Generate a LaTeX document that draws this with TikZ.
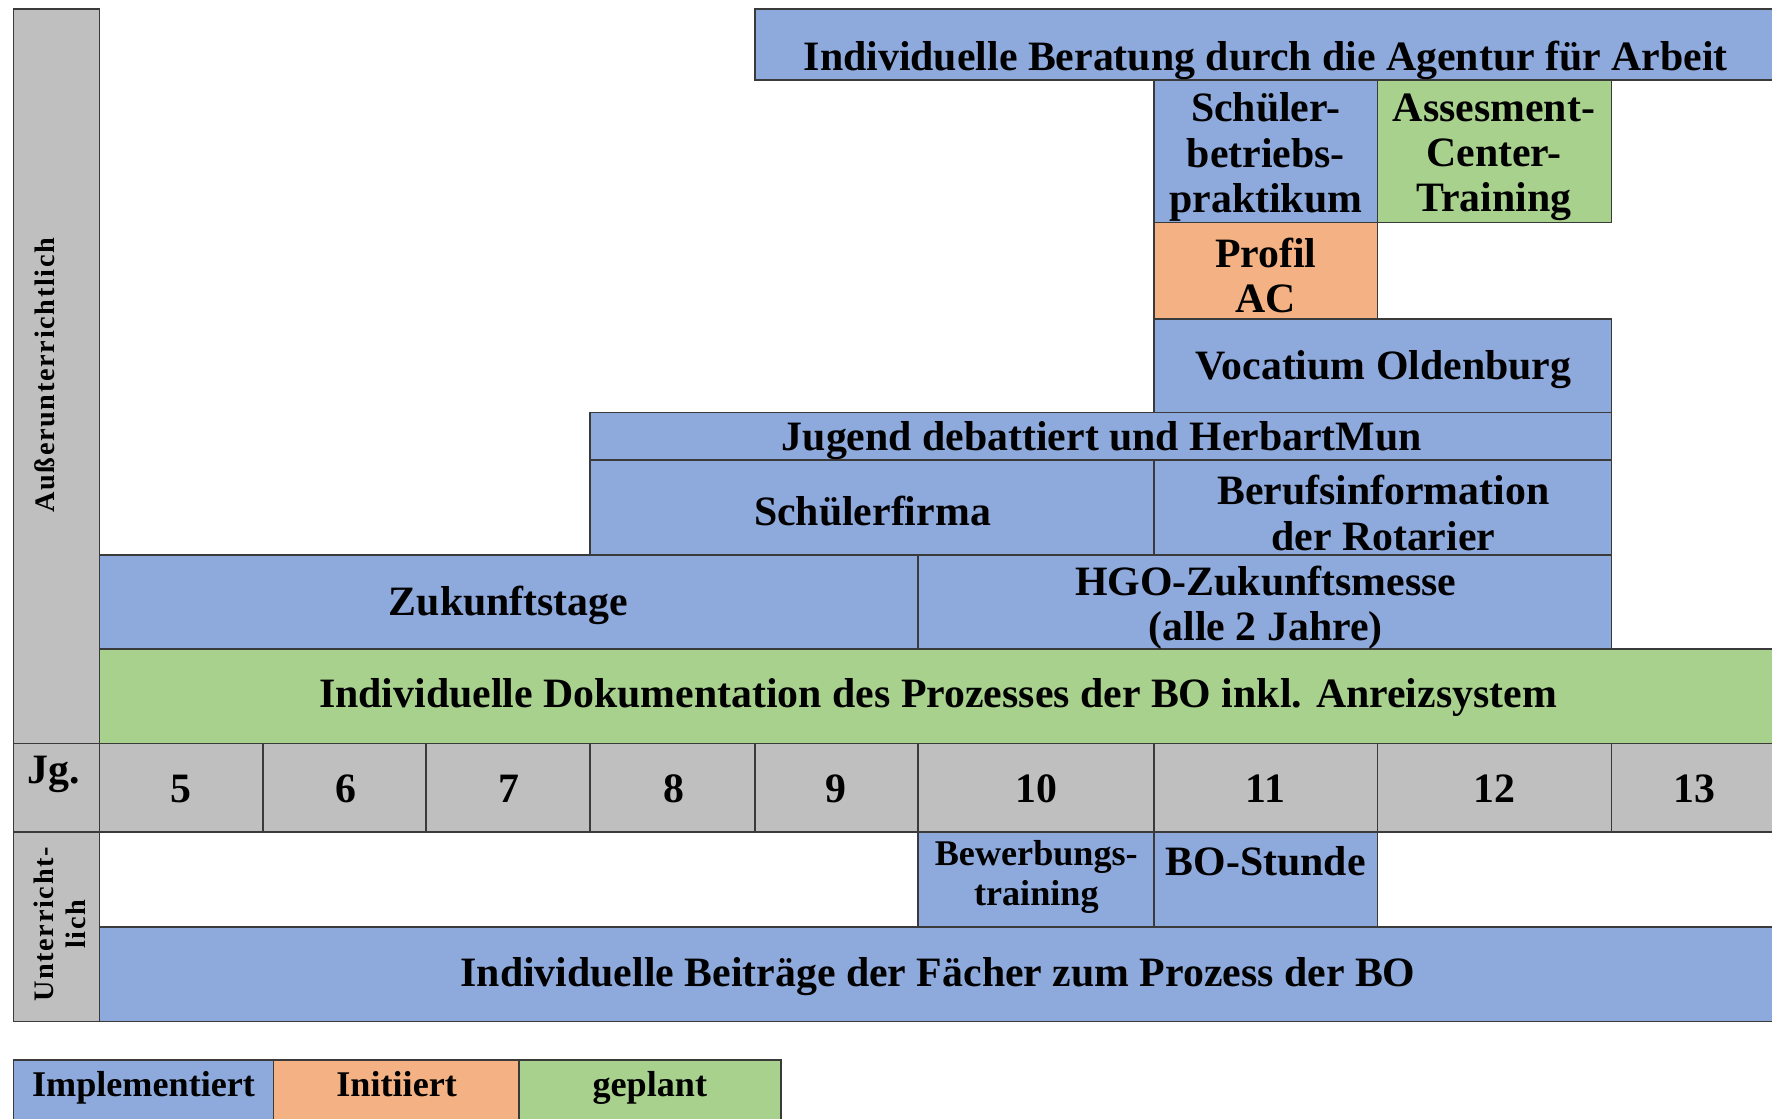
\documentclass[tikz,border=0pt]{standalone}
\usepackage{fontspec}
\newfontfamily\cfont{Liberation Serif}
\newfontfamily\nfont[LetterSpace=6]{Liberation Serif}
\definecolor{cblue}{HTML}{8EA9DB}
\definecolor{corange}{HTML}{F4B183}
\definecolor{cgreen}{HTML}{A9D18E}
\definecolor{cgray}{HTML}{BFBFBF}
\definecolor{cline}{HTML}{3A3A3A}
\tikzset{
  box/.style={draw=cline, line width=1.5pt},
  txt/.style={font=\cfont\bfseries\fontsize{37}{40}\selectfont, align=center, inner sep=0pt},
  small/.style={font=\cfont\bfseries\fontsize{32}{35}\selectfont, align=center, inner sep=0pt},
  side/.style={font=\nfont\bfseries\fontsize{25}{29}\selectfont, align=center, inner sep=0pt, rotate=90},
}
\begin{document}
\begin{tikzpicture}[x=1pt,y=-1pt]
\useasboundingbox (0,0) rectangle (1568,990);
\clip (0,0) rectangle (1568,990);
\fill[white] (0,0) rectangle (1568,990);
% side column
\draw[box, fill=cgray] (12,8) rectangle (88,658);
\draw[box, fill=cgray] (12,658) rectangle (88,736);
\draw[box, fill=cgray] (12,736) rectangle (88,904);
% grade row
\foreach \a/\b in {88/233,233/377,377/522,522/668,668/812,812/1021,1021/1219,1219/1426,1426/1575}
  \draw[box, fill=cgray] (\a,658) rectangle (\b,736);
% upper boxes
\draw[box, fill=cblue] (668,8) rectangle (1575,71);
\draw[box, fill=cblue] (1021,71) rectangle (1219,197);
\draw[box, fill=cgreen] (1219,71) rectangle (1426,197);
\draw[box, fill=corange] (1021,197) rectangle (1219,282);
\draw[box, fill=cblue] (1021,282) rectangle (1426,365);
\draw[box, fill=cblue] (522,365) rectangle (1426,407);
\draw[box, fill=cblue] (522,407) rectangle (1021,491);
\draw[box, fill=cblue] (1021,407) rectangle (1426,491);
\draw[box, fill=cblue] (88,491) rectangle (812,574);
\draw[box, fill=cblue] (812,491) rectangle (1426,574);
\draw[box, fill=cgreen] (88,574) rectangle (1575,658);
% lower boxes
\draw[box, fill=cblue] (812,736) rectangle (1021,820);
\draw[box, fill=cblue] (1021,736) rectangle (1219,820);
\draw[box, fill=cblue] (88,820) rectangle (1575,904);
% legend
\draw[box, fill=cblue] (12,938) rectangle (242,1000);
\draw[box, fill=corange] (242,938) rectangle (459,1000);
\draw[box, fill=cgreen] (459,938) rectangle (691,1000);
% texts
\node[txt] (t1) at (1120,53) {Individuelle Beratung durch die Agentur für Arbeit};
\node[txt] (t2) at (1120,139) {Schüler-\\betriebs-\\praktikum};
\node[txt] (t3) at (1322,139) {Assesment-\\Center-\\Training};
\node[txt] (t4) at (1120,244) {Profil\\AC};
\node[txt] (t5) at (1224,327) {Vocatium Oldenburg};
\node[txt] (t6) at (975,390) {Jugend debattiert und HerbartMun};
\node[txt] (t7) at (772,452) {Schülerfirma};
\node[txt] (t8) at (1224,454) {Berufsinformation\\der Rotarier};
\node[txt] (t9) at (450,536) {Zukunftstage};
\node[txt] (t10) at (1120,538) {HGO-Zukunftsmesse\\(alle 2 Jahre)};
\node[txt] (t11) at (830,617) {Individuelle Dokumentation des Prozesses der BO inkl. Anreizsystem};
\node[txt, anchor=west] (jg) at (24,685) {Jg.};
\foreach \x/\n in {160/5,306/6,450/7,596/8,740/9,917/10,1120/11,1322/12,1499/13}
  \node[txt] (g\n) at (\x,698) {\n};
\node[small] (t12) at (917,776) {Bewerbungs-\\training};
\node[txt] (t13) at (1120,762) {BO-Stunde};
\node[txt] (t14) at (830,864) {Individuelle Beiträge der Fächer zum Prozess der BO};
\node[side] (s1) at (40,332) {Außerunterrichtlich};
\node[side] (s2) at (53,818) {Unterricht-\\lich};
\node[small, anchor=base] (l1) at (127,970) {Implementiert};
\node[small, anchor=base] (l2) at (351,970) {Initiiert};
\node[small, anchor=base] (l3) at (575,970) {geplant};
\end{tikzpicture}
\end{document}
